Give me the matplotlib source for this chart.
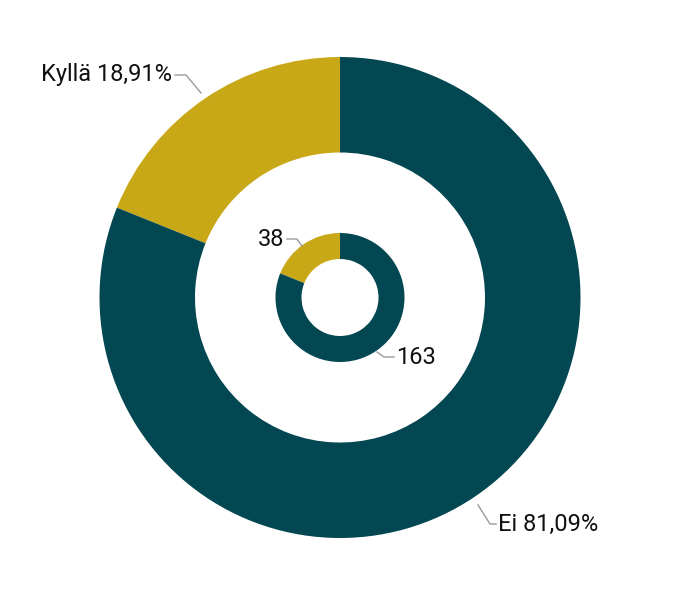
import matplotlib
matplotlib.use("Agg")
import matplotlib.pyplot as plt

categories = ["Kyllä", "Ei"]
counts = [38, 163]
pct_labels = ["18,91%", "81,09%"]
colors = ["#C9A818", "#034752"]

W, H = 695, 597
fig = plt.figure(figsize=(W / 100, H / 100), dpi=100)
ax = fig.add_axes([0, 0, 1, 1])

cx, cy = 340, H - 297.5

# outer donut (percent)
ax.pie(counts, radius=240.5, center=(cx, cy), colors=colors, startangle=90,
       counterclock=True, wedgeprops=dict(width=95.5, linewidth=0),
       frame=True)
# inner donut (counts)
ax.pie(counts, radius=64.5, center=(cx, cy), colors=colors, startangle=90,
       counterclock=True, wedgeprops=dict(width=26, linewidth=0),
       frame=True)
ax.set_xlim(0, W)
ax.set_ylim(0, H)
ax.set_aspect("equal")
ax.axis("off")

lc = "#9a9a9a"
fs = 17
fam = ["Roboto", "DejaVu Sans"]

def Y(y):
    return H - y

# outer labels
ax.plot([175, 186, 201], [Y(75), Y(75), Y(93)], color=lc, lw=1)
ax.text(172, Y(75), f"{categories[0]} {pct_labels[0]}", ha="right", va="center",
        fontsize=fs, family=fam, color="#111111")
ax.plot([478, 490, 496], [Y(505), Y(524), Y(524)], color=lc, lw=1)
ax.text(498, Y(524), f"{categories[1]} {pct_labels[1]}", ha="left", va="center",
        fontsize=fs, family=fam, color="#111111")

# inner labels
ax.plot([287, 297, 302], [Y(239), Y(239), Y(246)], color=lc, lw=1)
ax.text(284, Y(239), str(counts[0]), ha="right", va="center",
        fontsize=fs, family=fam, color="#111111")
ax.plot([377, 384, 394], [Y(352), Y(357), Y(357)], color=lc, lw=1)
ax.text(396, Y(358), str(counts[1]), ha="left", va="center",
        fontsize=fs, family=fam, color="#111111")

fig.savefig("out.png", dpi=100, facecolor="white")
